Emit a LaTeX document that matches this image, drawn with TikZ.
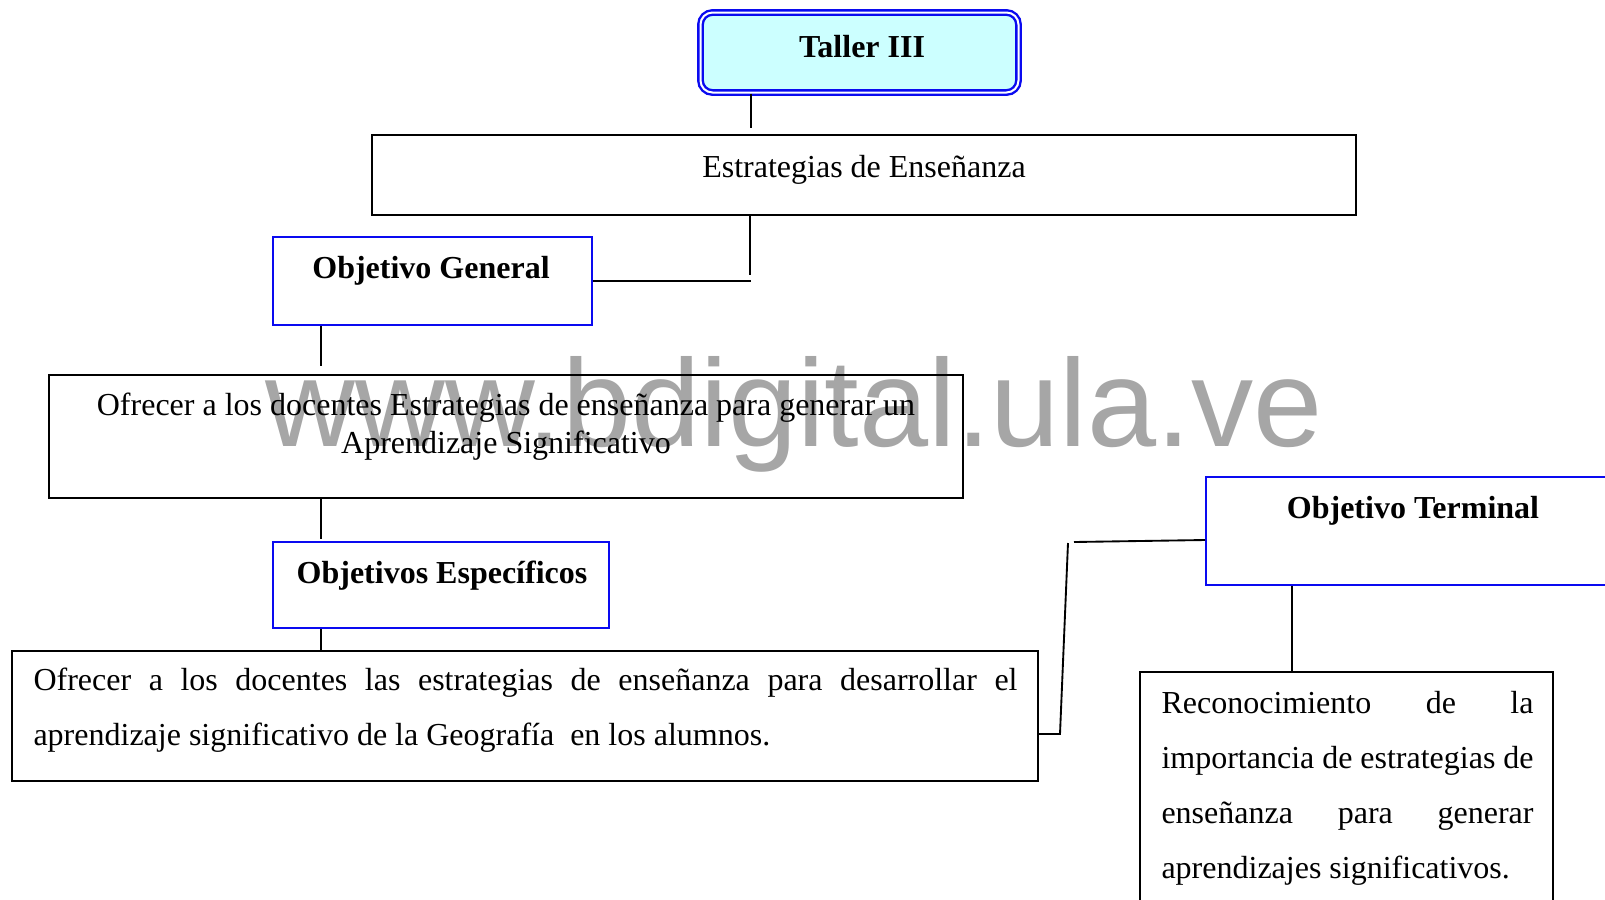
\documentclass[tikz,border=0pt]{standalone}
\usepackage{fontspec}
\setmainfont{Liberation Serif}
\setsansfont{Liberation Sans}
\usetikzlibrary{fit}
\definecolor{wmgray}{RGB}{166,166,166}
\definecolor{tfill}{RGB}{204,255,255}
\definecolor{bblue}{RGB}{10,10,240}
\begin{document}
\begin{tikzpicture}[x=0.375pt,y=-0.375pt,
  box/.style={draw=black, line width=0.7pt, inner sep=0pt},
  bluebox/.style={draw=bblue, line width=0.75pt, inner sep=0pt},
  conn/.style={draw=black, line width=0.7pt},
  txt/.style={inner sep=0pt, anchor=base, font=\fontsize{12}{14}\selectfont},
  ltxt/.style={inner sep=0pt, anchor=base west, font=\fontsize{12}{14}\selectfont},
]
\useasboundingbox (0,0) rectangle (1605,899);
\clip (0,0) rectangle (1605,899);
% watermark
\node[anchor=base, inner sep=0pt, text=wmgray, font=\fontsize{46.6}{46}\sffamily\selectfont] (wm) at (794,446) {www.bdigital.ula.ve};

% Taller III
\node[fit={(700.5,12.5) (1018.5,92.5)}, inner sep=0pt, draw=bblue, fill=tfill, double=white, double distance=0.75pt, line width=0.9pt, rounded corners=4.5pt] (tal) {};
\node[txt] (taltxt) at (862,57) {\textbf{Taller III}};

% Estrategias de Enseñanza
\node[box, fit={(372,135) (1356,215)}] (est) {};
\node[txt] (esttxt) at (864,177) {Estrategias de Enseñanza};

% Objetivo General
\node[bluebox, fit={(273,237) (592,325)}] (og) {};
\node[txt] (ogtxt) at (431,278) {\textbf{Objetivo General}};

% Box 1
\node[box, fit={(49,375) (963,498)}] (b1) {};
\node[txt] (b1l1) at (506,415) {Ofrecer a los docentes Estrategias de enseñanza para generar un};
\node[txt] (b1l2) at (506,453) {Aprendizaje Significativo};

% Objetivos Especificos
\node[bluebox, fit={(273,542) (609,628)}] (oe) {};
\node[txt] (oetxt) at (442,583) {\textbf{Objetivos Específicos}};

% Box 2
\node[box, fit={(12,651) (1038,781)}] (b2) {};
\node[ltxt] (b2l1) at (33,690) {\makebox[369pt][s]{Ofrecer a los docentes las estrategias de enseñanza para desarrollar el}};
\node[ltxt] (b2l2) at (33,745) {aprendizaje significativo de la Geografía\ \ en los alumnos.};

% Objetivo Terminal
\node[bluebox, fit={(1206,477) (1640,585)}] (ot) {};
\node[txt] (ottxt) at (1413,518) {\textbf{Objetivo Terminal}};

% Reconocimiento
\node[box, fit={(1140,672) (1553,930)}] (rec) {};
\node[ltxt] (recl1) at (1161,713) {\makebox[139.5pt][s]{Reconocimiento de la}};
\node[ltxt] (recl2) at (1161,768) {\makebox[139.5pt][s]{importancia de estrategias de}};
\node[ltxt] (recl3) at (1161,823) {\makebox[139.5pt][s]{enseñanza para generar}};
\node[ltxt] (recl4) at (1161,878) {aprendizajes significativos.};

% connectors
\coordinate (c1) at (751,128);
\draw[conn] (tal.south -| c1) -- (c1);
\coordinate (c2) at (750,275);
\draw[conn] (est.south -| c2) -- (c2);
\coordinate (c3) at (751,281);
\draw[conn] (og.east |- c3) -- (c3);
\coordinate (c4) at (321,366);
\draw[conn] (og.south -| c4) -- (c4);
\coordinate (c5) at (321,539);
\draw[conn] (b1.south -| c5) -- (c5);
\draw[conn] (oe.south -| c5) -- (b2.north -| c5);
\coordinate (c6) at (1060,734);
\coordinate (c7) at (1068,543);
\coordinate (c8) at (1074,542);
\coordinate (c9) at (1206,540);
\draw[conn] (b2.east |- c6) -- (c6) -- (c7);
\draw[conn] (c8) -- (ot.west |- c9);
\coordinate (c10) at (1292,600);
\draw[conn] (ot.south -| c10) -- (rec.north -| c10);
\end{tikzpicture}
\end{document}
